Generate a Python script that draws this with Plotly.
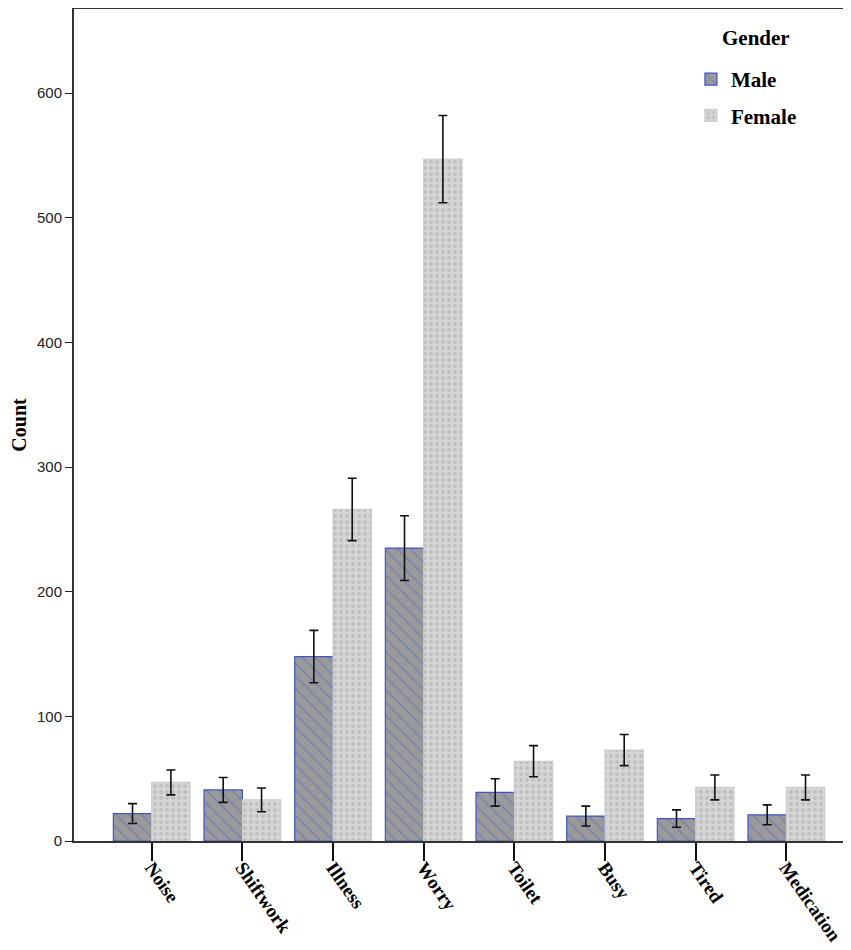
import plotly.graph_objects as go

categories = ["Noise", "Shiftwork", "Illness", "Worry", "Toilet", "Busy", "Tired", "Medication"]
male = [22, 41, 148, 235, 39, 20, 18, 21]
male_err = [8, 10, 21, 26, 11, 8, 7, 8]
female = [47, 33, 266, 547, 64, 73, 43, 43]
female_err = [10, 9.5, 25, 35, 12.5, 12.5, 10, 10]

serif = "Liberation Serif"
sans = "Liberation Sans"

fig = go.Figure()
fig.add_trace(go.Bar(
    name="Male", x=categories, y=male, legendgroup="m",
    marker=dict(color="#9a9a9a", line=dict(color="#3f57c4", width=1.2),
                pattern=dict(shape="\\", fgcolor="#4a62c8", bgcolor="#9a9a9a", size=9, solidity=0.15)),
    error_y=dict(type="data", array=male_err, color="#111111", thickness=1.6, width=4.5),
))
fig.add_trace(go.Bar(
    name="Female", x=categories, y=female, legendgroup="f",
    marker=dict(color="#d6d6d6", line=dict(color="#cccccc", width=1.2),
                pattern=dict(shape=".", fgcolor="#a8a8a8", bgcolor="#d6d6d6", size=6, solidity=0.35)),
    error_y=dict(type="data", array=female_err, color="#111111", thickness=1.6, width=4.5),
))

fig.add_annotation(text="Gender", xref="paper", yref="paper", x=0.832, y=0.965,
                   xanchor="left", yanchor="middle", showarrow=False,
                   font=dict(family=serif, size=21, color="black", weight="bold"))

fig.update_layout(
    width=843, height=950,
    margin=dict(l=66, r=0, t=1, b=117, autoexpand=False),
    paper_bgcolor="white", plot_bgcolor="white",
    barmode="group", bargap=0.154, bargroupgap=0,
    showlegend=True,
    legend=dict(x=0.794, y=0.940, xanchor="left", yanchor="top",
                font=dict(family=serif, size=21, color="black", weight="bold"),
                bgcolor="rgba(0,0,0,0)", tracegroupgap=6),
    xaxis=dict(range=[-0.857, 7.713], showline=True, linecolor="#333333", linewidth=2, mirror=True,
               ticks="outside", ticklen=18, tickwidth=2, tickcolor="#111111", tickangle=55,
               tickfont=dict(family=serif, size=19, color="black", weight="bold"),
               ticklabelstandoff=-12,
               showgrid=False, zeroline=False, automargin=False),
    yaxis=dict(range=[0, 667.5], showline=True, linecolor="#333333", linewidth=2,
               ticks="outside", ticklen=7, tickwidth=1.2, tickcolor="#222222",
               tickvals=[0, 100, 200, 300, 400, 500, 600],
               tickfont=dict(family=sans, size=15, color="#222222"),
               title=dict(text="Count", font=dict(family=serif, size=20, color="black", weight="bold"), standoff=12),
               showgrid=False, zeroline=False, automargin=False),
)

fig.write_html("out.html")
